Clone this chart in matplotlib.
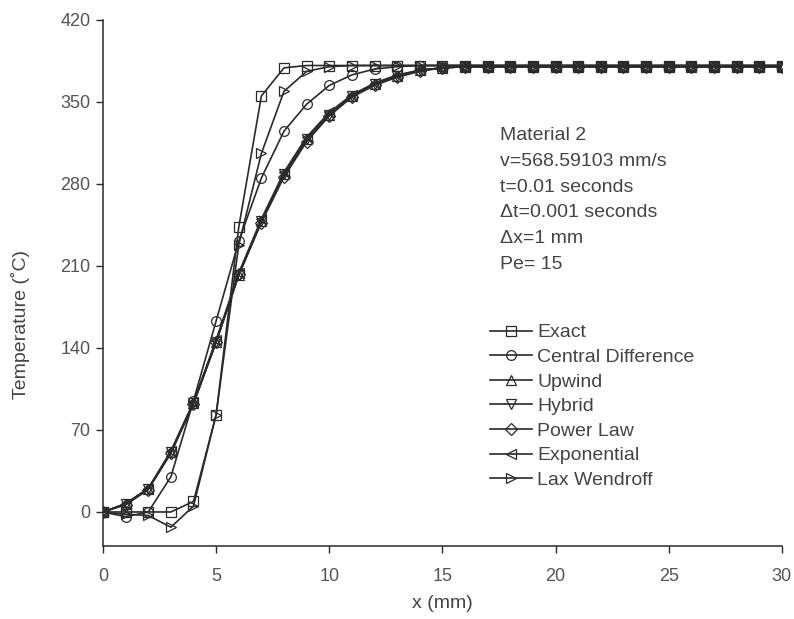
import matplotlib
matplotlib.use("Agg")
import matplotlib.pyplot as plt
import numpy as np

plt.rcParams['font.family'] = ['Liberation Sans', 'DejaVu Sans']

x = list(range(0, 31))

# values (°C), x = 0..30 mm
tail = [380] * 15
exact = [0, 0, 0, 0, 9, 83, 243, 355, 379, 381, 381, 381, 381, 381, 381, 381] + [381] * 15
central = [0, -4, 0, 30, 95, 163, 231, 285, 325, 348, 364, 373, 378, 380, 381, 381] + [381] * 15
upwind = [0, 7, 20, 51, 93, 145, 202, 248, 288, 318, 339, 355, 365, 372, 377, 379] + tail
hybrid = [0, 7, 20, 51, 93, 145, 202, 248, 288, 318, 339, 355, 365, 372, 377, 379] + tail
powerlaw = [0, 6, 19, 50, 92, 145, 203, 247, 286, 316, 338, 354, 364, 371, 376, 379] + tail
exponential = [0, 7, 20, 52, 94, 147, 204, 250, 290, 320, 341, 356, 366, 373, 377, 379] + tail
laxwendroff = [0, -2, -3, -13, 5, 83, 228, 306, 359, 376, 380, 381, 381, 381, 381, 381] + [381] * 15

series = [
    ("Exact", exact, "s"),
    ("Central Difference", central, "o"),
    ("Upwind", upwind, "^"),
    ("Hybrid", hybrid, "v"),
    ("Power Law", powerlaw, "D"),
    ("Exponential", exponential, "<"),
    ("Lax Wendroff", laxwendroff, ">"),
]

fig = plt.figure(figsize=(7.94, 6.19), dpi=100)
ax = fig.add_axes([0.1297, 0.118, 0.855, 0.85])

lc = "#2a2a2a"
for name, vals, m in series:
    ms = 6 if m == "D" else 7
    ax.plot(x, vals, color=lc, lw=1.2, marker=m, ms=ms, mfc="none",
            mec=lc, mew=0.9, label=name)

ax.set_xlim(0, 30)
ax.set_ylim(-29, 420)
ax.set_xticks([0, 5, 10, 15, 20, 25, 30])
ax.set_yticks([0, 70, 140, 210, 280, 350, 420])
ax.spines['top'].set_visible(False)
ax.spines['right'].set_visible(False)
for s in ['left', 'bottom']:
    ax.spines[s].set_color(lc)
    ax.spines[s].set_linewidth(1.1)
ax.tick_params(direction='out', length=5, width=1, color=lc,
               labelsize=13, labelcolor="#555555")
ax.tick_params(axis='x', pad=11)
ax.tick_params(axis='y', pad=4)

ax.set_xlabel("x (mm)", fontsize=14, color="#444444")
ax.set_ylabel("Temperature (˚C)", fontsize=14, color="#444444")
ax.xaxis.set_label_coords(0.5, -0.094)
ax.yaxis.set_label_coords(-0.108, 0.42)

info = "Material 2\nv=568.59103 mm/s\nt=0.01 seconds\n\u0394t=0.001 seconds\n\u0394x=1 mm\nPe= 15"
fig.text(0.630, 0.795, info, fontsize=14, color="#444444", va="top",
         ha="left", linespacing=1.68)

leg = ax.legend(loc="upper left", bbox_to_anchor=(0.558, 0.437), frameon=False,
                fontsize=14, handlelength=2.2, handletextpad=0.26,
                labelspacing=0.36, borderaxespad=0)
for t in leg.get_texts():
    t.set_color("#444444")

fig.savefig("out.png", dpi=100)
